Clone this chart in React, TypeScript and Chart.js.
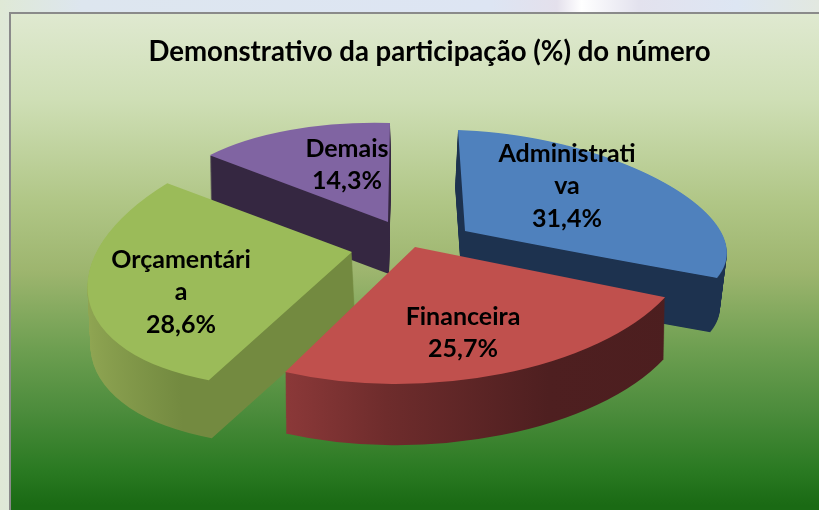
import React, { useEffect, useRef } from "react";
import { Chart, registerables } from "chart.js";

Chart.register(...registerables);

const titleText = "Demonstrativo da participação (%) do número";
const categories = ["Administrativa", "Financeira", "Orçamentária", "Demais"];
const shares = [31.4, 25.7, 28.6, 14.3];
const labelLines = [
  ["Administrati", "va", "31,4%"],
  ["Financeira", "25,7%"],
  ["Orçamentári", "a", "28,6%"],
  ["Demais", "14,3%"],
];
const topColors = ["#4f81bd", "#c0504d", "#9bbb59", "#8064a2"];
const paintOrder = [3, 0, 2, 1];

// Per-slice view pose: an affine tilt of the flat pie, standing in for the 3-D projection.
// taper widens the slice row by row towards the viewer (perspective).
type Pose = {
  px: number; py: number; a: number; b: number; c: number; d: number;
  depth: number; shrink: number; shiftX: number; taper: number;
  wall: [number, string][];
  label: [number, number];
};
const poses: Pose[] = [
  { px: 465, py: 231, a: 257, b: 7, c: 8, d: 101, depth: 55, shrink: 0.015, shiftX: -3, taper: 0.3,
    wall: [[0, "#1d324f"], [1, "#1d324f"]], label: [102, -45] },
  { px: 415, py: 247, a: 276.7, b: -11.6, c: -3.7, d: 136.9, depth: 62, shrink: 0.005, shiftX: 0, taper: 0,
    wall: [[0, "#8f3a3a"], [0.26, "#8f3a3a"], [0.47, "#6e2c2c"], [0.76, "#4e1f20"], [1, "#4c1e1f"]], label: [48, 86] },
  { px: 352, py: 252, a: 262.5, b: -33.2, c: -18.3, d: 133.3, depth: 58, shrink: 0.0, shiftX: 3, taper: 0,
    wall: [[0, "#90a653"], [0.225, "#738a40"], [1, "#738a40"]], label: [-171, 40] },
  { px: 388, py: 222, a: 229.5, b: -2, c: 6.5, d: 99, depth: 52, shrink: 0.0, shiftX: 1, taper: 0,
    wall: [[0, "#352741"], [1, "#352741"]], label: [-41, -57] },
];

const panelGradient =
  "linear-gradient(180deg,#dfe9d0 0%,#cfdfb6 17%,#b0c686 38%,#9db56e 52%,#6c9e50 68%,#4c8c3c 80%,#2a7a22 92%,#1a6a14 99%,#1a6a14 100%)";
const stripGradient =
  "linear-gradient(90deg,#dfe9d6 0%,#dde6ef 10%,#dde5f3 60%,#e4e0ec 68%,#ffffff 71%,#e3e2ee 78%,#dde6f3 90%,#e2e8e0 100%)";

const pie3d = {
  id: "pie3d",
  beforeDatasetsDraw(chart: any) {
    const ctx: CanvasRenderingContext2D = chart.ctx;
    const arcs = chart.getDatasetMeta(0).data;

    const place = (arc: any, p: Pose, t: number, a: number) => {
      const k = (1 - p.shrink * t) / arc.outerRadius;
      ctx.translate(p.px + p.shiftX * t, p.py + p.depth * t);
      ctx.transform(a * k, p.c * k, p.b * k, p.d * k, 0, 0);
      ctx.translate(-arc.x, -arc.y);
    };
    const paint = (arc: any, fill: any) => {
      const keep = arc.options;
      arc.options = { ...keep, backgroundColor: fill };
      arc.draw(ctx);
      arc.options = keep;
    };
    const drawLayer = (arc: any, p: Pose, t: number, fill: any) => {
      if (!p.taper) {
        ctx.save();
        place(arc, p, t, p.a);
        paint(arc, fill);
        ctx.restore();
        return;
      }
      const y0 = Math.round(p.py + p.depth * t);
      const reach = Math.ceil(p.d + Math.abs(p.c)) + 2;
      for (let row = y0 - reach; row <= y0 + reach; row++) {
        ctx.save();
        ctx.beginPath();
        ctx.rect(0, row, chart.width, 1);
        ctx.clip();
        place(arc, p, t, p.a + p.taper * (row - y0));
        paint(arc, fill);
        ctx.restore();
      }
    };

    for (const i of paintOrder) {
      const arc = arcs[i];
      const p = poses[i];
      const r = arc.outerRadius;
      const wall = ctx.createLinearGradient(arc.x - r, 0, arc.x + r, 0);
      p.wall.forEach(([o, col]) => wall.addColorStop(o, col));
      for (let s = Math.round(p.depth); s >= 1; s--) drawLayer(arc, p, s / p.depth, wall);
      drawLayer(arc, p, 0, topColors[i]);
    }

    ctx.save();
    ctx.fillStyle = "#000";
    ctx.font = "bold 25px Lato, Carlito, sans-serif";
    ctx.textAlign = "center";
    ctx.textBaseline = "middle";
    labelLines.forEach((lines, i) => {
      const p = poses[i];
      const cx = p.px + p.label[0];
      const cy = p.py + p.label[1];
      lines.forEach((line, j) => {
        ctx.fillText(line, cx, cy + (j - (lines.length - 1) / 2) * 32.5);
      });
    });
    ctx.restore();
    return false;
  },
};

export default function App() {
  const ref = useRef<HTMLCanvasElement>(null);
  useEffect(() => {
    document.body.style.margin = "0";
    const chart = new Chart(ref.current!, {
      type: "pie",
      data: {
        labels: categories,
        datasets: [{ data: shares, backgroundColor: topColors, borderWidth: 0 }],
      },
      options: {
        responsive: false,
        animation: false,
        layout: { padding: { left: 40, top: 0, right: 0, bottom: 0 } },
        plugins: {
          legend: { display: false },
          tooltip: { enabled: false },
          title: {
            display: true,
            text: titleText,
            color: "#000",
            font: { family: "Lato, Carlito, sans-serif", size: 27.6, weight: "bold" },
            padding: { top: 36, bottom: 10 },
          },
        },
      },
      plugins: [pie3d],
    } as any);
    return () => chart.destroy();
  }, []);
  return (
    <div style={{ position: "relative", width: 819, height: 510, overflow: "hidden", background: stripGradient }}>
      <div
        style={{
          position: "absolute", left: 9, top: 12, width: 810, height: 498, boxSizing: "border-box",
          borderLeft: "2px solid #8a8a8a", borderTop: "2px solid #8a8a8a", background: panelGradient,
        }}
      />
      <canvas ref={ref} width={819} height={510} style={{ position: "absolute", left: 0, top: 0, display: "block" }} />
    </div>
  );
}
